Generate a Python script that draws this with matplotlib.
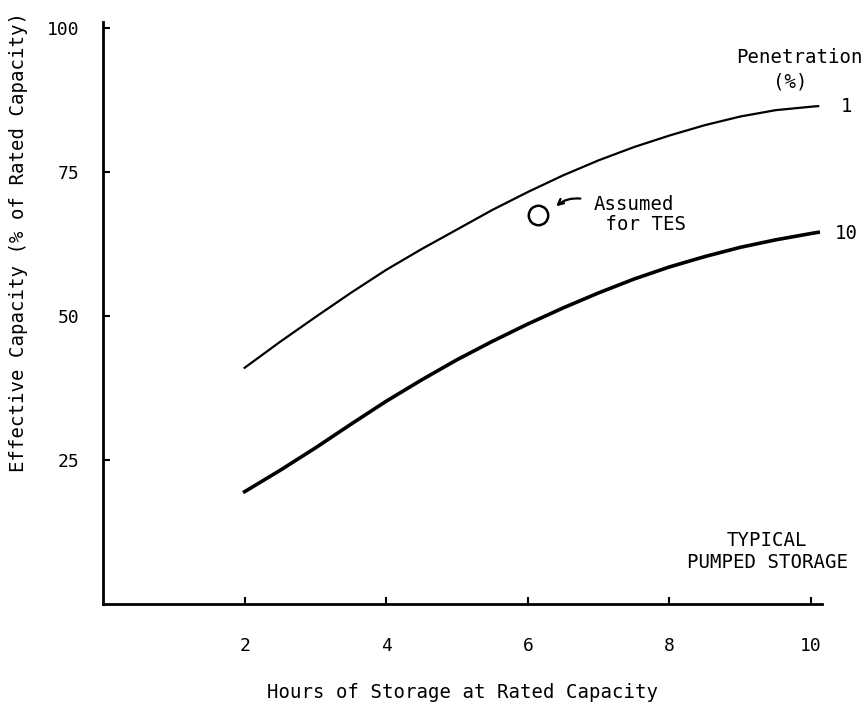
import matplotlib.pyplot as plt

# Hours of storage (x)
horas = [2, 2.5, 3, 3.5, 4, 4.5, 5, 5.5, 6, 6.5, 7, 7.5, 8, 8.5, 9, 9.5, 10, 10.1]
# Effective capacity, 1 % penetration
cap_1 = [41, 45.5, 49.8, 54, 58, 61.6, 65, 68.4, 71.5, 74.4, 77, 79.3, 81.3, 83.1,
         84.6, 85.7, 86.3, 86.4]
# Effective capacity, 10 % penetration
cap_10 = [19.5, 23.2, 27.1, 31.2, 35.2, 38.9, 42.4, 45.6, 48.6, 51.4, 54, 56.4,
          58.5, 60.3, 61.9, 63.2, 64.3, 64.5]
# Point assumed for TES
tes_x, tes_y = [6.14], [67.5]

xticks = [2, 4, 6, 8, 10]
yticks = [25, 50, 75, 100]

plt.rcParams["font.family"] = "DejaVu Sans Mono"
FS = 13.7

fig = plt.figure(figsize=(8.68, 7.09), dpi=100)
ax = fig.add_axes([0.1187, 0.148, 0.828, 0.821])

ax.plot(horas, cap_1, color="black", lw=1.6)
ax.plot(horas, cap_10, color="black", lw=2.6)
ax.plot(tes_x, tes_y, marker="o", ms=14, mfc="none", mec="black", mew=1.8,
        ls="none")

ax.set_xlim(0, 10.15)
ax.set_ylim(0, 101)
ax.set_xticks(xticks)
ax.set_yticks(yticks)
ax.tick_params(direction="in", length=5, width=1.5, labelsize=13)
ax.tick_params(axis="x", pad=24)
ax.tick_params(axis="y", pad=17)
ax.spines[["top", "right"]].set_visible(False)
ax.spines[["left", "bottom"]].set_linewidth(2)

ax.set_xlabel("Hours of Storage at Rated Capacity", fontsize=FS, labelpad=20)
ax.set_ylabel("Effective Capacity (% of Rated Capacity)", fontsize=FS)
ax.yaxis.set_label_coords(-0.105, 0.622)

# Annotations
ax.annotate("", xy=(6.37, 68.7), xytext=(6.78, 70.3),
            arrowprops=dict(arrowstyle="->", lw=1.6, color="black",
                            connectionstyle="arc3,rad=0.25"))
ax.text(6.93, 67.6, "Assumed\n for TES", fontsize=FS, va="center", ha="left",
        linespacing=1.1)

ax.text(9.84, 94.8, "Penetration", fontsize=FS, ha="center", va="center",
        clip_on=False)
ax.text(9.71, 90.5, "(%)", fontsize=FS, ha="center", va="center",
        clip_on=False)
ax.text(10.42, 86.4, "1", fontsize=FS, ha="left", va="center", clip_on=False)
ax.text(10.33, 64.3, "10", fontsize=FS, ha="left", va="center", clip_on=False)
ax.text(9.38, 9.2, "TYPICAL\nPUMPED STORAGE", fontsize=FS, ha="center",
        va="center", linespacing=1.2)

fig.savefig("out.png", dpi=100, facecolor="white")
